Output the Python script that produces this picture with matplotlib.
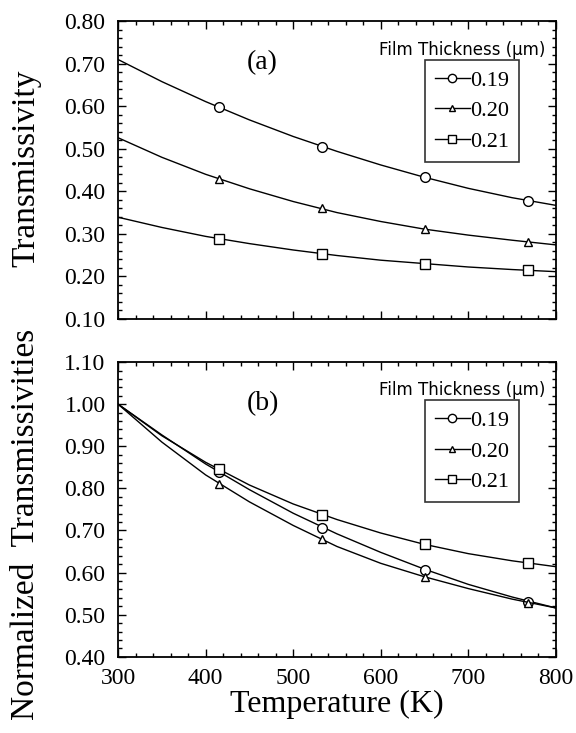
import matplotlib
matplotlib.use("Agg")
import matplotlib.pyplot as plt
from matplotlib.lines import Line2D
from matplotlib.ticker import MultipleLocator

# ---- data ----
temps_marker = [415, 533, 650, 768]
temps_curve = [300, 350, 400, 450, 500, 550, 600, 650, 700, 750, 800]
thickness_labels = ["0.19", "0.20", "0.21"]

# (a) Transmissivity
trans_marker_019 = [0.598, 0.505, 0.434, 0.378]
trans_marker_020 = [0.430, 0.361, 0.312, 0.280]
trans_marker_021 = [0.288, 0.252, 0.230, 0.214]
trans_curve_019 = [0.710, 0.658, 0.611, 0.568, 0.529, 0.494, 0.462, 0.433, 0.407, 0.385, 0.367]
trans_curve_020 = [0.526, 0.480, 0.440, 0.406, 0.376, 0.350, 0.329, 0.311, 0.297, 0.285, 0.274]
trans_curve_021 = [0.339, 0.315, 0.294, 0.277, 0.262, 0.249, 0.238, 0.230, 0.222, 0.216, 0.211]

# (b) Normalized transmissivities
norm_marker_019 = [0.838, 0.706, 0.607, 0.531]
norm_marker_020 = [0.811, 0.680, 0.590, 0.527]
norm_marker_021 = [0.845, 0.737, 0.667, 0.623]
norm_curve_019 = [1.000, 0.927, 0.858, 0.797, 0.741, 0.692, 0.648, 0.608, 0.572, 0.542, 0.516]
norm_curve_020 = [1.000, 0.910, 0.832, 0.768, 0.712, 0.662, 0.622, 0.590, 0.562, 0.537, 0.516]
norm_curve_021 = [1.000, 0.925, 0.862, 0.808, 0.763, 0.726, 0.694, 0.667, 0.645, 0.628, 0.614]

markers = ["o", "^", "s"]
msizes = [7, 5.5, 7]

SERIF = "Liberation Serif"
SANS = "DejaVu Sans"
plt.rcParams["font.family"] = SERIF

fig = plt.figure(figsize=(5.76, 7.33), dpi=100)
ax1 = fig.add_axes([0.205, 0.565, 0.760, 0.406])
ax2 = fig.add_axes([0.205, 0.104, 0.760, 0.402])


def style(ax, ylo, yhi):
    ax.set_xlim(300, 800)
    ax.set_ylim(ylo, yhi)
    ax.xaxis.set_major_locator(MultipleLocator(100))
    ax.xaxis.set_minor_locator(MultipleLocator(20))
    ax.yaxis.set_major_locator(MultipleLocator(0.1))
    ax.yaxis.set_minor_locator(MultipleLocator(0.02))
    ax.tick_params(which="both", direction="in", top=True, right=True,
                   labelsize=17, width=1.0)
    ax.tick_params(which="major", length=6)
    ax.tick_params(which="minor", length=3)
    ax.tick_params(axis="y", which="major", pad=9)
    ax.tick_params(axis="x", which="major", pad=8)
    ax.yaxis.set_major_formatter(plt.FuncFormatter(lambda v, p: f"{v:.2f}"))
    for s in ax.spines.values():
        s.set_linewidth(1.3)


def draw(ax, curves, marks, letter):
    handles = []
    for c, m, mk, ms, lab in zip(curves, marks, markers, msizes, thickness_labels):
        ax.plot(temps_curve, c, color="black", lw=1.0)
        ax.plot(temps_marker, m, linestyle="none", marker=mk, ms=ms,
                mfc="white", mec="black", mew=1.0)
        handles.append(Line2D([], [], color="black", lw=1.0, marker=mk, ms=ms - 1,
                              mfc="white", mec="black", mew=1.0, label=lab))
    leg = ax.legend(handles=handles, loc="upper left", bbox_to_anchor=(0.70, 0.87),
                    frameon=True, fancybox=False, edgecolor="black", fontsize=16,
                    handlelength=1.6, handletextpad=0.0, borderpad=0.45,
                    labelspacing=0.45, borderaxespad=0.0)
    leg.get_frame().set_linewidth(1.2)
    ax.text(0.785, 0.905, "Film Thickness (\u00b5m)", transform=ax.transAxes,
            ha="center", va="center", fontsize=12, family=SANS)
    ax.text(0.33, 0.86, letter, transform=ax.transAxes, ha="center", va="center",
            fontsize=20)


style(ax1, 0.10, 0.80)
style(ax2, 0.40, 1.10)
ax1.tick_params(labelbottom=False)

draw(ax1, [trans_curve_019, trans_curve_020, trans_curve_021],
     [trans_marker_019, trans_marker_020, trans_marker_021], "(a)")
draw(ax2, [norm_curve_019, norm_curve_020, norm_curve_021],
     [norm_marker_019, norm_marker_020, norm_marker_021], "(b)")

ax2.set_xlabel("Temperature (K)", fontsize=23, labelpad=1)
fig.text(0.045, 0.77, "Transmissivity", rotation=90, ha="center", va="center",
         fontsize=24)
fig.text(0.045, 0.285, "Normalized  Transmissivities", rotation=90, ha="center",
         va="center", fontsize=24)

fig.savefig("out.png", dpi=100)
